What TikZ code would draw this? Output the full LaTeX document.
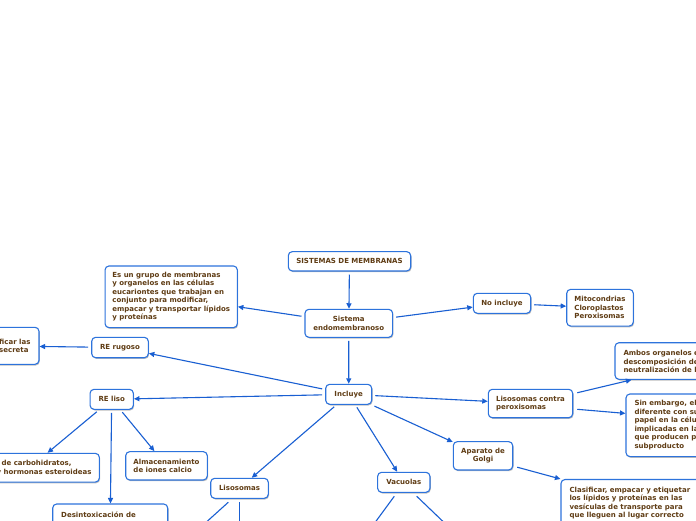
\documentclass[tikz,border=0pt]{standalone}
\usepackage{fontspec}
\setmainfont{DejaVu Sans}
\usetikzlibrary{arrows.meta,shadows,calc}
\definecolor{bordc}{RGB}{45,115,220}
\definecolor{arrc}{RGB}{25,95,210}
\definecolor{txtc}{RGB}{95,60,20}
\tikzset{
 mm/.style={font=\fontsize{7}{8.5}\selectfont\bfseries, text=txtc},
 box/.style={mm, draw=bordc, line width=1.1pt, fill=white, rounded corners=4pt, inner sep=0pt, align=center,
   drop shadow={shadow xshift=0.8pt, shadow yshift=-1.2pt, opacity=0.25, fill=black}},
 lbl/.style={mm, inner sep=0pt, align=left},
 arr/.style={draw=arrc, line width=1.1pt, -{Triangle[length=5.5pt,width=5pt]}, shorten <=3pt},
 lin/.style={draw=arrc, line width=1.1pt},
}
\begin{document}
\begin{tikzpicture}[x=1pt,y=-1pt]
\useasboundingbox (0,0) rectangle (696,520);
\fill[white] (0,0) rectangle (696,520);
\clip (0,0) rectangle (696,520);

\node[box, minimum width=122.4pt, minimum height=19.3pt] (sm) at (349.5,261.3) {SISTEMAS DE MEMBRANAS};
\node[box, minimum width=87.7pt, minimum height=28pt] (se) at (348.8,323.3) {Sistema\\endomembranoso};
\node[box, align=left, minimum width=132.3pt, minimum height=61.7pt] (eg) at (171.2,296.8) {Es un grupo de membranas\\y organelos en las células\\eucariontes que trabajan en\\conjunto para modificar,\\empacar y transportar lípidos\\y proteínas};
\node[box, minimum width=56.6pt, minimum height=20.4pt] (rr) at (120,347.5) {RE rugoso};
\node[box, minimum width=99pt, minimum height=37pt] (mf) at (-10.5,345.8) {};
\node[lbl, anchor=west] (mft) at (-1,345.8) {ficar las\\secreta};
\node[box, minimum width=57.4pt, minimum height=20pt] (ni) at (502,303.3) {No incluye};
\node[box, align=left, minimum width=66.6pt, minimum height=36.7pt] (mi) at (600,307.7) {Mitocondrias\\Cloroplastos\\Peroxisomas};
\node[box, minimum width=145pt, minimum height=36.6pt] (am) at (687.5,361) {};
\node[lbl, anchor=west] (amt) at (623.3,361.3) {Ambos organelos están\\descomposición de\\neutralización de las};
\node[box, minimum width=140pt, minimum height=62.7pt] (sb) at (696,425.3) {};
\node[lbl, anchor=west] (sbt) at (634.3,425.3) {Sin embargo, el\\diferente con su\\papel en la célula\\implicadas en las\\que producen peróxido\\subproducto};
\node[box, align=left, minimum width=84.4pt, minimum height=28.4pt] (lc) at (530.5,403.5) {Lisosomas contra\\peroxisomas};
\node[box, minimum width=59.4pt, minimum height=28.3pt] (ag) at (483,455.8) {Aparato de\\Golgi};
\node[box, minimum width=140pt, minimum height=60pt] (cl) at (631,509.5) {};
\node[lbl, anchor=north west] (clt) at (569.3,486.7) {Clasificar, empacar y etiquetar\\los lípidos y proteínas en las\\vesículas de transporte para\\que lleguen al lugar correcto};
\node[box, minimum width=46pt, minimum height=20pt] (inc) at (348.7,394.3) {Incluye};
\node[box, minimum width=43.3pt, minimum height=20pt] (rl) at (111.7,399.3) {RE liso};
\node[box, align=left, minimum width=139.3pt, minimum height=28.7pt] (si) at (29.7,467.7) {Síntesis de carbohidratos,\\lípidos y hormonas esteroideas};
\node[box, align=left, minimum width=81.6pt, minimum height=28.3pt] (al) at (166.5,465.8) {Almacenamiento\\de iones calcio};
\node[box, minimum width=115pt, minimum height=40pt] (de) at (110.2,524) {};
\node[lbl, anchor=north west] (det) at (61,511.5) {Desintoxicación de};
\node[box, minimum width=57.6pt, minimum height=20pt] (ls) at (239.5,488.3) {Lisosomas};
\node[box, minimum width=52.3pt, minimum height=20pt] (va) at (403.8,482.3) {Vacuolas};

\coordinate (lsA) at (186.5,540);
\coordinate (lsB) at (239.3,540);
\coordinate (vaA) at (362.2,540);
\coordinate (vaB) at (462.3,540);

\draw[arr] (sm) -- (se);
\draw[arr] (se) -- (eg);
\draw[arr] (se) -- (ni);
\draw[arr] (ni) -- (mi);
\draw[arr] (se) -- (inc);
\draw[arr] (inc) -- (rr);
\draw[arr] (rr) -- (mf);
\draw[arr] (inc) -- (rl);
\draw[arr] (rl) -- (si);
\draw[arr] (rl) -- (de);
\draw[arr] (rl) -- (al);
\draw[arr] (inc) -- (ls);
\draw[arr] (inc) -- (va);
\draw[arr] (inc) -- (lc);
\draw[arr] (inc) -- (ag);
\draw[arr, shorten <=0pt] ($(lc.north east)+(4,4)$) -- ($(am.south west)+(17,0)$);
\draw[arr, shorten <=0pt] ($(lc.east)+(4,5.8)$) -- ($(sb.north west)+(0,20)$);
\draw[arr, shorten <=0pt] ($(ag.south east)+(4,-3.3)$) -- (cl.north west);
\draw[lin] ($(ls.south)+(-11.2,3.4)$) -- (lsA);
\draw[lin] ($(ls.south)+(-0.2,3.4)$) -- (lsB);
\draw[lin] ($(va.south)+(-9.5,3.4)$) -- (vaA);
\draw[lin] ($(va.south)+(12.9,3.4)$) -- (vaB);
\end{tikzpicture}
\end{document}
